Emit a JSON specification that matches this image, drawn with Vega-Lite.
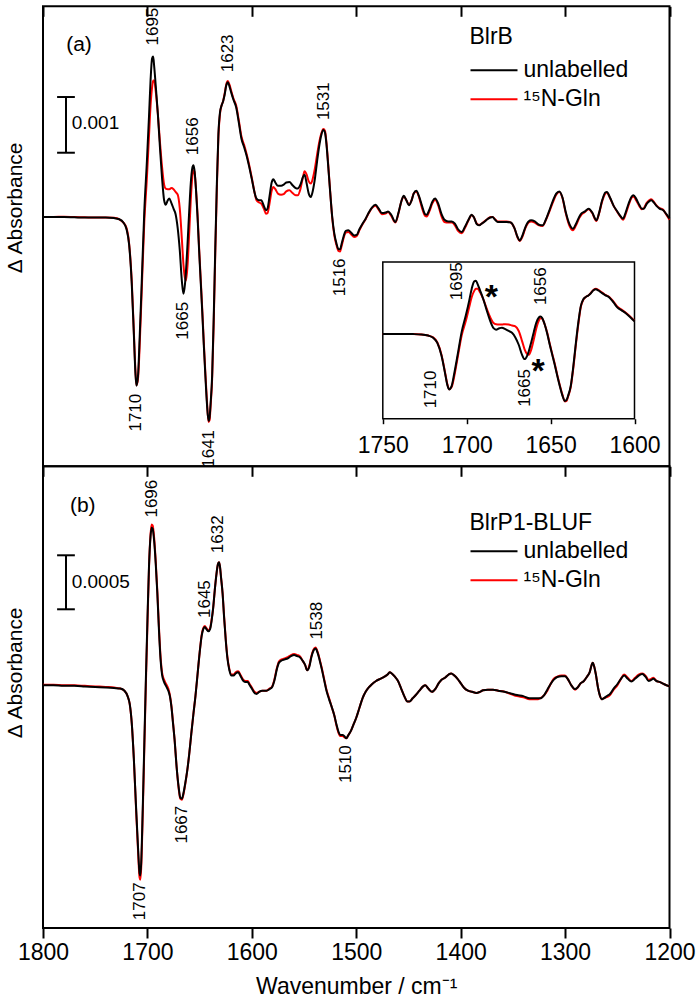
{
"$schema": "https://vega.github.io/schema/vega-lite/v6.json",
"padding": {"left": 3, "top": 4.3, "right": 5, "bottom": 0},
"config": {"font": "Liberation Sans", "view": {"stroke": "black", "strokeWidth": 2}, "axis": {"labelColor": "black", "titleColor": "black", "tickColor": "black", "grid": false, "labelFont": "Liberation Sans", "titleFont": "Liberation Sans"}, "legend": {"labelFont": "Liberation Sans", "titleFont": "Liberation Sans"}, "text": {"font": "Liberation Sans", "color": "black"}},
"datasets": {
"blrb": [
{"wn":1800,"unl":0,"n15":0},{"wn":1790,"unl":0,"n15":0},{"wn":1780,"unl":0,"n15":0.005},{"wn":1770,"unl":-0.005,"n15":0},{"wn":1760,"unl":-0.01,"n15":-0.005},{"wn":1750,"unl":-0.01,"n15":-0.01},{"wn":1740,"unl":-0.01,"n15":-0.01},{"wn":1732,"unl":-0.02,"n15":-0.015},{"wn":1727,"unl":-0.04,"n15":-0.04},{"wn":1723,"unl":-0.1,"n15":-0.1},{"wn":1720,"unl":-0.22,"n15":-0.2},{"wn":1717.5,"unl":-0.5,"n15":-0.48},{"wn":1715,"unl":-1.2,"n15":-1.15},{"wn":1713,"unl":-2.1,"n15":-2.05},{"wn":1711.5,"unl":-2.8,"n15":-2.75},{"wn":1710.5,"unl":-3.03,"n15":-3.02},{"wn":1709,"unl":-2.85,"n15":-2.9},{"wn":1707.5,"unl":-2.2,"n15":-2.35},{"wn":1705.5,"unl":-1.2,"n15":-1.35},{"wn":1703,"unl":0.1,"n15":-0.1},{"wn":1700.5,"unl":1.0,"n15":0.7},{"wn":1698.5,"unl":1.8,"n15":1.45},{"wn":1697,"unl":2.45,"n15":2.0},{"wn":1695.5,"unl":2.85,"n15":2.33},{"wn":1694.5,"unl":2.88,"n15":2.45},{"wn":1693.5,"unl":2.7,"n15":2.45},{"wn":1692,"unl":2.35,"n15":2.25},{"wn":1690,"unl":1.85,"n15":1.85},{"wn":1688,"unl":1.25,"n15":1.35},{"wn":1686,"unl":0.7,"n15":0.9},{"wn":1684,"unl":0.3,"n15":0.58},{"wn":1682.5,"unl":0.22,"n15":0.51},{"wn":1680.5,"unl":0.3,"n15":0.5},{"wn":1679,"unl":0.33,"n15":0.5},{"wn":1677,"unl":0.25,"n15":0.52},{"wn":1675,"unl":0.15,"n15":0.5},{"wn":1673,"unl":0.05,"n15":0.45},{"wn":1671,"unl":-0.2,"n15":0.4},{"wn":1669,"unl":-0.6,"n15":0.15},{"wn":1667,"unl":-1.15,"n15":-0.4},{"wn":1665.5,"unl":-1.38,"n15":-0.85},{"wn":1664,"unl":-1.2,"n15":-1.1},{"wn":1663,"unl":-0.95,"n15":-1.14},{"wn":1661.5,"unl":-0.45,"n15":-0.85},{"wn":1660,"unl":0.1,"n15":-0.3},{"wn":1658.5,"unl":0.6,"n15":0.3},{"wn":1657,"unl":0.88,"n15":0.72},{"wn":1656,"unl":0.93,"n15":0.84},{"wn":1655,"unl":0.85,"n15":0.82},{"wn":1653.5,"unl":0.5,"n15":0.5},{"wn":1652,"unl":0.0,"n15":0.05},{"wn":1650.5,"unl":-0.6,"n15":-0.55},{"wn":1649,"unl":-1.15,"n15":-1.1},{"wn":1647.5,"unl":-1.7,"n15":-1.65},{"wn":1646,"unl":-2.3,"n15":-2.25},{"wn":1644.5,"unl":-2.85,"n15":-2.8},{"wn":1643,"unl":-3.35,"n15":-3.3},{"wn":1641.5,"unl":-3.66,"n15":-3.68},{"wn":1640.5,"unl":-3.6,"n15":-3.65},{"wn":1639.5,"unl":-3.35,"n15":-3.4},{"wn":1638,"unl":-2.84,"n15":-2.9},{"wn":1636.5,"unl":-1.8,"n15":-1.9},{"wn":1635,"unl":-0.55,"n15":-0.65},{"wn":1633.5,"unl":0.6,"n15":0.5},{"wn":1632,"unl":1.5,"n15":1.45},{"wn":1630.5,"unl":1.88,"n15":1.85},{"wn":1629,"unl":2.0,"n15":2.0},{"wn":1627.5,"unl":2.08,"n15":2.08},{"wn":1626,"unl":2.2,"n15":2.22},{"wn":1624.5,"unl":2.36,"n15":2.38},{"wn":1623,"unl":2.42,"n15":2.44},{"wn":1621.5,"unl":2.35,"n15":2.38},{"wn":1619.5,"unl":2.22,"n15":2.25},{"wn":1617.5,"unl":2.1,"n15":2.12},{"wn":1615,"unl":1.97,"n15":2.0},{"wn":1612.5,"unl":1.7,"n15":1.74},{"wn":1610,"unl":1.41,"n15":1.45},{"wn":1607.5,"unl":1.26,"n15":1.3},{"wn":1605,"unl":1.1,"n15":1.13},{"wn":1602.5,"unl":0.9,"n15":0.93},{"wn":1600,"unl":0.68,"n15":0.7},{"wn":1597.5,"unl":0.45,"n15":0.45},{"wn":1595.5,"unl":0.33,"n15":0.3},{"wn":1593,"unl":0.3,"n15":0.26},{"wn":1591,"unl":0.3,"n15":0.24},{"wn":1588.5,"unl":0.2,"n15":0.15},{"wn":1586.5,"unl":0.12,"n15":0.06},{"wn":1585,"unl":0.15,"n15":0.07},{"wn":1583,"unl":0.38,"n15":0.25},{"wn":1581,"unl":0.62,"n15":0.47},{"wn":1579.5,"unl":0.68,"n15":0.54},{"wn":1577.5,"unl":0.62,"n15":0.5},{"wn":1575,"unl":0.56,"n15":0.42},{"wn":1572,"unl":0.56,"n15":0.4},{"wn":1569.5,"unl":0.58,"n15":0.41},{"wn":1567,"unl":0.62,"n15":0.46},{"wn":1564,"unl":0.63,"n15":0.48},{"wn":1561,"unl":0.57,"n15":0.43},{"wn":1558,"unl":0.52,"n15":0.39},{"wn":1556,"unl":0.51,"n15":0.39},{"wn":1553.5,"unl":0.58,"n15":0.5},{"wn":1551,"unl":0.72,"n15":0.72},{"wn":1549.5,"unl":0.76,"n15":0.82},{"wn":1547.5,"unl":0.6,"n15":0.76},{"wn":1545.5,"unl":0.42,"n15":0.64},{"wn":1543.5,"unl":0.36,"n15":0.6},{"wn":1541.5,"unl":0.48,"n15":0.7},{"wn":1539.5,"unl":0.7,"n15":0.88},{"wn":1537.5,"unl":1.0,"n15":1.12},{"wn":1535.5,"unl":1.27,"n15":1.34},{"wn":1533.5,"unl":1.47,"n15":1.5},{"wn":1531.5,"unl":1.56,"n15":1.58},{"wn":1530,"unl":1.52,"n15":1.55},{"wn":1528.5,"unl":1.3,"n15":1.33},{"wn":1527,"unl":0.95,"n15":0.98},{"wn":1525,"unl":0.45,"n15":0.47},{"wn":1523,"unl":0.0,"n15":-0.02},{"wn":1521,"unl":-0.3,"n15":-0.33},{"wn":1519,"unl":-0.47,"n15":-0.5},{"wn":1517,"unl":-0.58,"n15":-0.61},{"wn":1515.5,"unl":-0.58,"n15":-0.62},{"wn":1514,"unl":-0.48,"n15":-0.52},{"wn":1512,"unl":-0.34,"n15":-0.37},{"wn":1510,"unl":-0.25,"n15":-0.28},{"wn":1507.5,"unl":-0.24,"n15":-0.27},{"wn":1505,"unl":-0.28,"n15":-0.31},{"wn":1502,"unl":-0.33,"n15":-0.36},{"wn":1499.5,"unl":-0.32,"n15":-0.34},{"wn":1497,"unl":-0.22,"n15":-0.24},{"wn":1494,"unl":-0.12,"n15":-0.13},{"wn":1491,"unl":-0.03,"n15":-0.04},{"wn":1488,"unl":0.08,"n15":0.07},{"wn":1485,"unl":0.17,"n15":0.16},{"wn":1481.5,"unl":0.22,"n15":0.2},{"wn":1478.5,"unl":0.15,"n15":0.13},{"wn":1475.5,"unl":0.07,"n15":0.05},{"wn":1472,"unl":0.08,"n15":0.06},{"wn":1469.5,"unl":0.1,"n15":0.09},{"wn":1466.5,"unl":0.04,"n15":0.02},{"wn":1462.5,"unl":-0.09,"n15":-0.1},{"wn":1459.5,"unl":0.08,"n15":0.07},{"wn":1456.5,"unl":0.3,"n15":0.3},{"wn":1454.5,"unl":0.38,"n15":0.37},{"wn":1452,"unl":0.3,"n15":0.3},{"wn":1449.5,"unl":0.21,"n15":0.22},{"wn":1447,"unl":0.3,"n15":0.3},{"wn":1445,"unl":0.42,"n15":0.42},{"wn":1442.5,"unl":0.47,"n15":0.46},{"wn":1440,"unl":0.38,"n15":0.36},{"wn":1437,"unl":0.2,"n15":0.16},{"wn":1434,"unl":0.05,"n15":0.02},{"wn":1432.5,"unl":0.04,"n15":0.01},{"wn":1430,"unl":0.13,"n15":0.1},{"wn":1427,"unl":0.28,"n15":0.25},{"wn":1424.5,"unl":0.33,"n15":0.31},{"wn":1421.5,"unl":0.24,"n15":0.21},{"wn":1418.5,"unl":0.06,"n15":0.02},{"wn":1415.5,"unl":-0.05,"n15":-0.09},{"wn":1412,"unl":-0.08,"n15":-0.1},{"wn":1408.5,"unl":-0.08,"n15":-0.1},{"wn":1405.5,"unl":-0.12,"n15":-0.15},{"wn":1402.5,"unl":-0.22,"n15":-0.25},{"wn":1399,"unl":-0.27,"n15":-0.29},{"wn":1396,"unl":-0.18,"n15":-0.2},{"wn":1392.5,"unl":-0.05,"n15":-0.06},{"wn":1389.5,"unl":0.04,"n15":0.03},{"wn":1387.5,"unl":0.0,"n15":0.0},{"wn":1384.5,"unl":-0.13,"n15":-0.12},{"wn":1382,"unl":-0.15,"n15":-0.14},{"wn":1380,"unl":-0.12,"n15":-0.12},{"wn":1377.5,"unl":-0.09,"n15":-0.08},{"wn":1374.5,"unl":-0.04,"n15":-0.04},{"wn":1371.5,"unl":-0.01,"n15":0.0},{"wn":1369.5,"unl":0,"n15":0.0},{"wn":1367,"unl":-0.05,"n15":-0.04},{"wn":1364.5,"unl":-0.09,"n15":-0.08},{"wn":1360,"unl":-0.09,"n15":-0.08},{"wn":1356,"unl":-0.09,"n15":-0.08},{"wn":1352,"unl":-0.1,"n15":-0.1},{"wn":1348.5,"unl":-0.2,"n15":-0.2},{"wn":1345.5,"unl":-0.36,"n15":-0.37},{"wn":1343.5,"unl":-0.42,"n15":-0.43},{"wn":1341,"unl":-0.34,"n15":-0.36},{"wn":1338,"unl":-0.18,"n15":-0.2},{"wn":1335,"unl":-0.08,"n15":-0.1},{"wn":1332.5,"unl":-0.06,"n15":-0.08},{"wn":1329,"unl":-0.08,"n15":-0.1},{"wn":1325,"unl":-0.14,"n15":-0.15},{"wn":1321.5,"unl":-0.15,"n15":-0.16},{"wn":1318.5,"unl":-0.05,"n15":-0.06},{"wn":1315,"unl":0.12,"n15":0.1},{"wn":1311.5,"unl":0.3,"n15":0.27},{"wn":1308.5,"unl":0.42,"n15":0.4},{"wn":1305.5,"unl":0.46,"n15":0.45},{"wn":1302.5,"unl":0.35,"n15":0.34},{"wn":1299.5,"unl":0.1,"n15":0.08},{"wn":1296,"unl":-0.12,"n15":-0.15},{"wn":1292.5,"unl":-0.21,"n15":-0.24},{"wn":1289.5,"unl":-0.12,"n15":-0.15},{"wn":1286.5,"unl":0.0,"n15":-0.02},{"wn":1284.5,"unl":0.06,"n15":0.04},{"wn":1281,"unl":0.1,"n15":0.09},{"wn":1277.5,"unl":0.15,"n15":0.14},{"wn":1274,"unl":0.08,"n15":0.07},{"wn":1271,"unl":-0.04,"n15":-0.05},{"wn":1270,"unl":-0.06,"n15":-0.07},{"wn":1267.5,"unl":0.07,"n15":0.06},{"wn":1264.5,"unl":0.3,"n15":0.28},{"wn":1261.5,"unl":0.44,"n15":0.42},{"wn":1260,"unl":0.45,"n15":0.44},{"wn":1257,"unl":0.35,"n15":0.34},{"wn":1253.5,"unl":0.2,"n15":0.2},{"wn":1250,"unl":0.1,"n15":0.09},{"wn":1247.5,"unl":0.03,"n15":0.02},{"wn":1244.5,"unl":-0.03,"n15":-0.05},{"wn":1242,"unl":0.08,"n15":0.05},{"wn":1239,"unl":0.25,"n15":0.22},{"wn":1236.5,"unl":0.36,"n15":0.34},{"wn":1234.5,"unl":0.39,"n15":0.37},{"wn":1232,"unl":0.33,"n15":0.3},{"wn":1229,"unl":0.22,"n15":0.2},{"wn":1226.5,"unl":0.15,"n15":0.14},{"wn":1224.5,"unl":0.15,"n15":0.16},{"wn":1222,"unl":0.23,"n15":0.25},{"wn":1219.5,"unl":0.28,"n15":0.3},{"wn":1217.5,"unl":0.3,"n15":0.32},{"wn":1215,"unl":0.26,"n15":0.27},{"wn":1212.5,"unl":0.2,"n15":0.21},{"wn":1209.5,"unl":0.15,"n15":0.16},{"wn":1206,"unl":0.12,"n15":0.13},{"wn":1203,"unl":0.05,"n15":0.04},{"wn":1200,"unl":-0.03,"n15":-0.05}
],
"blrp1": [
{"wn":1800,"unl":0,"n15":0.005},{"wn":1790,"unl":0,"n15":0.005},{"wn":1780,"unl":-0.005,"n15":0},{"wn":1770,"unl":-0.005,"n15":0},{"wn":1760,"unl":-0.01,"n15":-0.005},{"wn":1750,"unl":-0.015,"n15":-0.01},{"wn":1740,"unl":-0.02,"n15":-0.015},{"wn":1732,"unl":-0.025,"n15":-0.02},{"wn":1726,"unl":-0.03,"n15":-0.03},{"wn":1722,"unl":-0.05,"n15":-0.05},{"wn":1719,"unl":-0.1,"n15":-0.1},{"wn":1717,"unl":-0.17,"n15":-0.17},{"wn":1715,"unl":-0.35,"n15":-0.35},{"wn":1713,"unl":-0.68,"n15":-0.68},{"wn":1711,"unl":-1.1,"n15":-1.12},{"wn":1709,"unl":-1.5,"n15":-1.53},{"wn":1707.5,"unl":-1.74,"n15":-1.78},{"wn":1706.8,"unl":-1.76,"n15":-1.8},{"wn":1706,"unl":-1.65,"n15":-1.7},{"wn":1704.5,"unl":-1.15,"n15":-1.2},{"wn":1703,"unl":-0.55,"n15":-0.6},{"wn":1701.5,"unl":0.05,"n15":0.0},{"wn":1700,"unl":0.6,"n15":0.55},{"wn":1698.5,"unl":1.1,"n15":1.08},{"wn":1697,"unl":1.38,"n15":1.4},{"wn":1696,"unl":1.46,"n15":1.49},{"wn":1695,"unl":1.45,"n15":1.48},{"wn":1693.5,"unl":1.33,"n15":1.36},{"wn":1692,"unl":1.12,"n15":1.14},{"wn":1690.5,"unl":0.85,"n15":0.87},{"wn":1689,"unl":0.52,"n15":0.55},{"wn":1687.5,"unl":0.25,"n15":0.28},{"wn":1686,"unl":0.1,"n15":0.12},{"wn":1684,"unl":0.03,"n15":0.05},{"wn":1682,"unl":-0.01,"n15":0.01},{"wn":1680,"unl":-0.05,"n15":-0.03},{"wn":1678.5,"unl":-0.1,"n15":-0.09},{"wn":1677,"unl":-0.2,"n15":-0.19},{"wn":1675.5,"unl":-0.35,"n15":-0.34},{"wn":1674,"unl":-0.5,"n15":-0.5},{"wn":1672,"unl":-0.76,"n15":-0.76},{"wn":1670,"unl":-0.95,"n15":-0.96},{"wn":1668.5,"unl":-1.04,"n15":-1.05},{"wn":1667,"unl":-1.05,"n15":-1.06},{"wn":1665.5,"unl":-1.0,"n15":-1.01},{"wn":1664,"unl":-0.92,"n15":-0.93},{"wn":1662,"unl":-0.8,"n15":-0.8},{"wn":1660,"unl":-0.64,"n15":-0.64},{"wn":1658,"unl":-0.45,"n15":-0.45},{"wn":1656,"unl":-0.27,"n15":-0.27},{"wn":1654,"unl":-0.1,"n15":-0.1},{"wn":1652,"unl":0.1,"n15":0.1},{"wn":1650,"unl":0.3,"n15":0.3},{"wn":1648,"unl":0.46,"n15":0.47},{"wn":1646.5,"unl":0.52,"n15":0.53},{"wn":1645,"unl":0.54,"n15":0.55},{"wn":1643.5,"unl":0.52,"n15":0.53},{"wn":1641.5,"unl":0.5,"n15":0.51},{"wn":1640,"unl":0.52,"n15":0.53},{"wn":1638.5,"unl":0.6,"n15":0.61},{"wn":1637,"unl":0.72,"n15":0.72},{"wn":1635.5,"unl":0.88,"n15":0.88},{"wn":1634,"unl":1.02,"n15":1.02},{"wn":1632.5,"unl":1.12,"n15":1.12},{"wn":1631.5,"unl":1.14,"n15":1.14},{"wn":1630.5,"unl":1.1,"n15":1.1},{"wn":1629.5,"unl":1.0,"n15":1.0},{"wn":1628,"unl":0.85,"n15":0.85},{"wn":1626.5,"unl":0.62,"n15":0.63},{"wn":1625,"unl":0.42,"n15":0.43},{"wn":1623.5,"unl":0.26,"n15":0.27},{"wn":1621.5,"unl":0.14,"n15":0.15},{"wn":1619.5,"unl":0.09,"n15":0.1},{"wn":1617.5,"unl":0.09,"n15":0.1},{"wn":1615.5,"unl":0.11,"n15":0.12},{"wn":1613,"unl":0.12,"n15":0.13},{"wn":1610.5,"unl":0.08,"n15":0.09},{"wn":1608,"unl":0.04,"n15":0.05},{"wn":1606,"unl":0.03,"n15":0.04},{"wn":1604,"unl":0.03,"n15":0.04},{"wn":1602,"unl":0.0,"n15":0.01},{"wn":1600,"unl":-0.03,"n15":-0.02},{"wn":1597.5,"unl":-0.07,"n15":-0.06},{"wn":1595.5,"unl":-0.08,"n15":-0.07},{"wn":1593,"unl":-0.06,"n15":-0.06},{"wn":1590,"unl":-0.05,"n15":-0.05},{"wn":1586,"unl":-0.05,"n15":-0.05},{"wn":1583,"unl":-0.035,"n15":-0.03},{"wn":1580.5,"unl":-0.015,"n15":-0.01},{"wn":1578.5,"unl":0.04,"n15":0.05},{"wn":1576,"unl":0.15,"n15":0.16},{"wn":1574,"unl":0.21,"n15":0.22},{"wn":1571.5,"unl":0.23,"n15":0.24},{"wn":1568.5,"unl":0.24,"n15":0.25},{"wn":1565.5,"unl":0.25,"n15":0.26},{"wn":1562.5,"unl":0.27,"n15":0.28},{"wn":1559.5,"unl":0.28,"n15":0.29},{"wn":1556.5,"unl":0.27,"n15":0.28},{"wn":1554,"unl":0.26,"n15":0.27},{"wn":1551.5,"unl":0.23,"n15":0.23},{"wn":1549,"unl":0.19,"n15":0.19},{"wn":1547,"unl":0.14,"n15":0.14},{"wn":1545,"unl":0.17,"n15":0.18},{"wn":1543,"unl":0.26,"n15":0.27},{"wn":1541,"unl":0.32,"n15":0.33},{"wn":1539,"unl":0.34,"n15":0.35},{"wn":1537,"unl":0.3,"n15":0.31},{"wn":1535,"unl":0.23,"n15":0.24},{"wn":1533,"unl":0.15,"n15":0.16},{"wn":1531,"unl":0.06,"n15":0.07},{"wn":1528.5,"unl":-0.05,"n15":-0.04},{"wn":1526,"unl":-0.13,"n15":-0.12},{"wn":1523.5,"unl":-0.2,"n15":-0.2},{"wn":1521,"unl":-0.28,"n15":-0.28},{"wn":1519,"unl":-0.36,"n15":-0.37},{"wn":1517,"unl":-0.43,"n15":-0.44},{"wn":1515,"unl":-0.46,"n15":-0.47},{"wn":1513,"unl":-0.46,"n15":-0.47},{"wn":1511.5,"unl":-0.47,"n15":-0.48},{"wn":1509.5,"unl":-0.49,"n15":-0.49},{"wn":1507.5,"unl":-0.46,"n15":-0.46},{"wn":1505,"unl":-0.42,"n15":-0.42},{"wn":1502.5,"unl":-0.36,"n15":-0.36},{"wn":1500,"unl":-0.3,"n15":-0.3},{"wn":1497,"unl":-0.21,"n15":-0.21},{"wn":1494,"unl":-0.12,"n15":-0.12},{"wn":1491,"unl":-0.06,"n15":-0.06},{"wn":1488,"unl":-0.02,"n15":-0.02},{"wn":1485,"unl":0.01,"n15":0.01},{"wn":1481,"unl":0.04,"n15":0.04},{"wn":1477,"unl":0.06,"n15":0.06},{"wn":1473,"unl":0.08,"n15":0.08},{"wn":1470,"unl":0.1,"n15":0.1},{"wn":1468,"unl":0.12,"n15":0.12},{"wn":1466,"unl":0.11,"n15":0.11},{"wn":1463,"unl":0.08,"n15":0.08},{"wn":1460,"unl":0.04,"n15":0.04},{"wn":1457,"unl":-0.03,"n15":-0.03},{"wn":1454,"unl":-0.1,"n15":-0.1},{"wn":1451,"unl":-0.15,"n15":-0.15},{"wn":1449,"unl":-0.15,"n15":-0.15},{"wn":1446,"unl":-0.12,"n15":-0.12},{"wn":1443,"unl":-0.09,"n15":-0.09},{"wn":1439.5,"unl":-0.05,"n15":-0.05},{"wn":1436,"unl":-0.01,"n15":-0.01},{"wn":1434,"unl":0.0,"n15":0.0},{"wn":1431,"unl":-0.03,"n15":-0.03},{"wn":1427.5,"unl":-0.06,"n15":-0.06},{"wn":1424,"unl":-0.03,"n15":-0.03},{"wn":1421,"unl":0.02,"n15":0.02},{"wn":1418.5,"unl":0.05,"n15":0.05},{"wn":1415,"unl":0.07,"n15":0.07},{"wn":1411.5,"unl":0.1,"n15":0.1},{"wn":1409,"unl":0.11,"n15":0.11},{"wn":1406,"unl":0.09,"n15":0.09},{"wn":1403,"unl":0.06,"n15":0.06},{"wn":1400,"unl":0.02,"n15":0.02},{"wn":1397,"unl":-0.02,"n15":-0.02},{"wn":1393,"unl":-0.05,"n15":-0.05},{"wn":1389,"unl":-0.06,"n15":-0.06},{"wn":1385,"unl":-0.07,"n15":-0.07},{"wn":1381.5,"unl":-0.06,"n15":-0.06},{"wn":1378.5,"unl":-0.045,"n15":-0.045},{"wn":1374,"unl":-0.04,"n15":-0.04},{"wn":1369,"unl":-0.04,"n15":-0.04},{"wn":1364,"unl":-0.05,"n15":-0.05},{"wn":1358,"unl":-0.06,"n15":-0.06},{"wn":1352,"unl":-0.075,"n15":-0.08},{"wn":1346,"unl":-0.09,"n15":-0.1},{"wn":1340,"unl":-0.1,"n15":-0.11},{"wn":1334,"unl":-0.12,"n15":-0.13},{"wn":1328,"unl":-0.12,"n15":-0.13},{"wn":1324,"unl":-0.12,"n15":-0.12},{"wn":1320,"unl":-0.09,"n15":-0.09},{"wn":1317,"unl":-0.04,"n15":-0.05},{"wn":1314,"unl":0.01,"n15":0.01},{"wn":1311,"unl":0.05,"n15":0.06},{"wn":1307.5,"unl":0.077,"n15":0.08},{"wn":1303.5,"unl":0.085,"n15":0.09},{"wn":1300,"unl":0.085,"n15":0.09},{"wn":1297.5,"unl":0.06,"n15":0.06},{"wn":1294,"unl":0.0,"n15":0.0},{"wn":1290.5,"unl":-0.035,"n15":-0.04},{"wn":1288,"unl":-0.02,"n15":-0.02},{"wn":1285,"unl":0.02,"n15":0.02},{"wn":1282,"unl":0.04,"n15":0.04},{"wn":1279,"unl":0.08,"n15":0.08},{"wn":1276.5,"unl":0.12,"n15":0.12},{"wn":1274.5,"unl":0.19,"n15":0.19},{"wn":1273.5,"unl":0.21,"n15":0.21},{"wn":1272,"unl":0.17,"n15":0.17},{"wn":1270.5,"unl":0.1,"n15":0.1},{"wn":1268.5,"unl":-0.02,"n15":-0.02},{"wn":1266.5,"unl":-0.1,"n15":-0.1},{"wn":1265,"unl":-0.13,"n15":-0.13},{"wn":1263,"unl":-0.12,"n15":-0.12},{"wn":1260,"unl":-0.1,"n15":-0.11},{"wn":1257,"unl":-0.08,"n15":-0.09},{"wn":1253.5,"unl":-0.03,"n15":-0.04},{"wn":1250,"unl":0.01,"n15":0.0},{"wn":1246.5,"unl":0.06,"n15":0.06},{"wn":1243.5,"unl":0.09,"n15":0.1},{"wn":1240,"unl":0.06,"n15":0.07},{"wn":1236.5,"unl":0.035,"n15":0.04},{"wn":1233,"unl":0.06,"n15":0.07},{"wn":1229.5,"unl":0.09,"n15":0.1},{"wn":1226,"unl":0.105,"n15":0.11},{"wn":1223,"unl":0.08,"n15":0.09},{"wn":1220,"unl":0.04,"n15":0.05},{"wn":1217.5,"unl":0.05,"n15":0.06},{"wn":1215.5,"unl":0.06,"n15":0.07},{"wn":1212.5,"unl":0.04,"n15":0.04},{"wn":1209,"unl":0.03,"n15":0.03},{"wn":1205,"unl":0.01,"n15":0.01},{"wn":1200,"unl":-0.01,"n15":-0.01}
],
"pk_a": [
{"wn":1695,"dA":2.9,"label":"1695","kind":"max"},{"wn":1656,"dA":0.93,"label":"1656","kind":"max"},{"wn":1623,"dA":2.42,"label":"1623","kind":"max"},{"wn":1531,"dA":1.56,"label":"1531","kind":"max"},
{"wn":1710.5,"dA":-3.03,"label":"1710","kind":"min"},{"wn":1665.5,"dA":-1.38,"label":"1665","kind":"min"},{"wn":1641.5,"dA":-3.68,"label":"1641","kind":"min"},{"wn":1516,"dA":-0.6,"label":"1516","kind":"min"}
],
"pk_b": [
{"wn":1696,"dA":1.47,"label":"1696","kind":"max"},{"wn":1645,"dA":0.54,"label":"1645","kind":"max"},{"wn":1632,"dA":1.14,"label":"1632","kind":"max"},{"wn":1538,"dA":0.34,"label":"1538","kind":"max"},
{"wn":1707,"dA":-1.76,"label":"1707","kind":"min"},{"wn":1667,"dA":-1.05,"label":"1667","kind":"min"},{"wn":1510,"dA":-0.49,"label":"1510","kind":"min"}
],
"pk_ins": [
{"wn":1710.5,"dA":-3.03,"label":"1710","kind":"min"},{"wn":1695,"dA":2.85,"label":"1695","kind":"max"},{"wn":1665.5,"dA":-1.43,"label":"1665","kind":"min"},{"wn":1656,"dA":0.85,"label":"1656","kind":"max"}
],
"stars": [{"wn":1685.3,"dA":2.41},{"wn":1657.5,"dA":-1.58}]
},
"spacing": 0,
"bounds": "flush",
"resolve": {"scale": {"color": "independent"}, "legend": {"color": "independent"}},
"vconcat": [
{
"width": 626.5, "height": 460,
"resolve": {"scale": {"x": "independent", "y": "independent"}, "axis": {"x": "independent", "y": "independent"}},
"layer": [
{"layer": [
{"data": {"name": "blrb"}, "mark": {"type": "line", "strokeWidth": 2, "interpolate": "monotone"},
 "encoding": {
  "x": {"field": "wn", "type": "quantitative", "scale": {"domain": [1200, 1800], "reverse": true, "nice": false, "zero": false}, "axis": {"orient": "top", "values": [1200,1300,1400,1500,1600,1700,1800], "tickSize": -10, "tickWidth": 2, "labels": false, "domain": false, "grid": false, "title": null}},
  "y": {"field": "n15", "type": "quantitative", "scale": {"domain": [-4.476, 3.783], "nice": false, "zero": false}, "axis": {"title": "Δ Absorbance", "labels": false, "ticks": false, "domain": true, "domainOpacity": 0, "grid": false, "titleFontSize": 21, "titleFontWeight": "normal", "titlePadding": 18, "titleY": 201}},
  "color": {"datum": "¹⁵N-Gln", "type": "nominal", "scale": {"domain": ["unlabelled", "¹⁵N-Gln"], "range": ["#000000", "#ff0000"]}, "legend": {"title": "BlrB", "orient": "none", "legendX": 426.5, "legendY": 20, "titleFontSize": 23, "titleFontWeight": "normal", "titleColor": "black", "titlePadding": 10, "labelFontSize": 23, "labelColor": "black", "symbolType": "stroke", "symbolSize": 2209, "symbolStrokeWidth": 2, "clipHeight": 22, "rowPadding": 6, "labelOffset": 5, "padding": 0, "labelLimit": 300}}}},
{"data": {"name": "blrb"}, "mark": {"type": "line", "strokeWidth": 2, "interpolate": "monotone"},
 "encoding": {
  "x": {"field": "wn", "type": "quantitative", "axis": {"orient": "top", "values": [1200,1300,1400,1500,1600,1700,1800], "tickSize": -10, "tickWidth": 2, "labels": false, "domain": false, "grid": false, "title": null}},
  "y": {"field": "unl", "type": "quantitative", "axis": {"title": "Δ Absorbance", "labels": false, "ticks": false, "domain": true, "domainOpacity": 0, "grid": false, "titleFontSize": 21, "titleFontWeight": "normal", "titlePadding": 18, "titleY": 201}},
  "color": {"datum": "unlabelled", "type": "nominal"}}},
{"data": {"name": "pk_a"}, "transform": [{"filter": "datum.kind === 'max'"}], "mark": {"type": "text", "angle": 270, "align": "left", "baseline": "middle", "dx": 10, "fontSize": 17},
 "encoding": {"x": {"field": "wn", "type": "quantitative", "axis": {"orient": "top", "values": [1200,1300,1400,1500,1600,1700,1800], "tickSize": -10, "tickWidth": 2, "labels": false, "domain": false, "grid": false, "title": null}}, "y": {"field": "dA", "type": "quantitative", "axis": {"title": "Δ Absorbance", "labels": false, "ticks": false, "domain": true, "domainOpacity": 0, "grid": false, "titleFontSize": 21, "titleFontWeight": "normal", "titlePadding": 18, "titleY": 201}}, "text": {"field": "label"}}},
{"data": {"name": "pk_a"}, "transform": [{"filter": "datum.kind === 'min'"}], "mark": {"type": "text", "angle": 270, "align": "right", "baseline": "middle", "dx": -8, "fontSize": 17},
 "encoding": {"x": {"field": "wn", "type": "quantitative", "axis": {"orient": "top", "values": [1200,1300,1400,1500,1600,1700,1800], "tickSize": -10, "tickWidth": 2, "labels": false, "domain": false, "grid": false, "title": null}}, "y": {"field": "dA", "type": "quantitative", "axis": {"title": "Δ Absorbance", "labels": false, "ticks": false, "domain": true, "domainOpacity": 0, "grid": false, "titleFontSize": 21, "titleFontWeight": "normal", "titlePadding": 18, "titleY": 201}}, "text": {"field": "label"}}},
{"data": {"values": [{}]}, "mark": {"type": "text", "fontSize": 21, "align": "center", "baseline": "middle"},
 "encoding": {"x": {"datum": 1765.5, "type": "quantitative", "axis": {"orient": "top", "values": [1200,1300,1400,1500,1600,1700,1800], "tickSize": -10, "tickWidth": 2, "labels": false, "domain": false, "grid": false, "title": null}}, "y": {"datum": 3.09, "type": "quantitative", "axis": {"title": "Δ Absorbance", "labels": false, "ticks": false, "domain": true, "domainOpacity": 0, "grid": false, "titleFontSize": 21, "titleFontWeight": "normal", "titlePadding": 18, "titleY": 201}}, "text": {"value": "(a)"}}},
{"data": {"values": [{}]}, "mark": {"type": "rule", "strokeWidth": 2, "color": "black"},
 "encoding": {"x": {"datum": 1778, "type": "quantitative", "axis": {"orient": "top", "values": [1200,1300,1400,1500,1600,1700,1800], "tickSize": -10, "tickWidth": 2, "labels": false, "domain": false, "grid": false, "title": null}}, "y": {"datum": 1.154, "type": "quantitative", "axis": {"title": "Δ Absorbance", "labels": false, "ticks": false, "domain": true, "domainOpacity": 0, "grid": false, "titleFontSize": 21, "titleFontWeight": "normal", "titlePadding": 18, "titleY": 201}}, "y2": {"datum": 2.154}}},
{"data": {"values": [{}]}, "mark": {"type": "rule", "strokeWidth": 2, "color": "black"},
 "encoding": {"x": {"datum": 1786.5, "type": "quantitative", "axis": {"orient": "top", "values": [1200,1300,1400,1500,1600,1700,1800], "tickSize": -10, "tickWidth": 2, "labels": false, "domain": false, "grid": false, "title": null}}, "x2": {"datum": 1769.5}, "y": {"datum": 1.154, "type": "quantitative", "axis": {"title": "Δ Absorbance", "labels": false, "ticks": false, "domain": true, "domainOpacity": 0, "grid": false, "titleFontSize": 21, "titleFontWeight": "normal", "titlePadding": 18, "titleY": 201}}}},
{"data": {"values": [{}]}, "mark": {"type": "rule", "strokeWidth": 2, "color": "black"},
 "encoding": {"x": {"datum": 1786.5, "type": "quantitative", "axis": {"orient": "top", "values": [1200,1300,1400,1500,1600,1700,1800], "tickSize": -10, "tickWidth": 2, "labels": false, "domain": false, "grid": false, "title": null}}, "x2": {"datum": 1769.5}, "y": {"datum": 2.154, "type": "quantitative", "axis": {"title": "Δ Absorbance", "labels": false, "ticks": false, "domain": true, "domainOpacity": 0, "grid": false, "titleFontSize": 21, "titleFontWeight": "normal", "titlePadding": 18, "titleY": 201}}}},
{"data": {"values": [{}]}, "mark": {"type": "text", "fontSize": 19, "align": "left", "baseline": "middle"},
 "encoding": {"x": {"datum": 1772.5, "type": "quantitative", "axis": {"orient": "top", "values": [1200,1300,1400,1500,1600,1700,1800], "tickSize": -10, "tickWidth": 2, "labels": false, "domain": false, "grid": false, "title": null}}, "y": {"datum": 1.69, "type": "quantitative", "axis": {"title": "Δ Absorbance", "labels": false, "ticks": false, "domain": true, "domainOpacity": 0, "grid": false, "titleFontSize": 21, "titleFontWeight": "normal", "titlePadding": 18, "titleY": 201}}, "text": {"value": "0.001"}}}
]},
{"layer": [
{"data": {"values": [{}]}, "mark": {"type": "rect", "fill": "white", "stroke": "black", "strokeWidth": 1.5},
 "encoding": {
  "x": {"datum": 1750, "type": "quantitative", "scale": {"domain": [1600, 1750], "range": [591.5, 339.8], "nice": false, "zero": false}, "axis": {"orient": "bottom", "offset": -47.6, "values": [1600, 1650, 1700, 1750], "tickSize": 5, "tickWidth": 1.5, "labelFontSize": 23, "labelPadding": 11, "format": "d", "labelFlush": false, "labelOverlap": false, "domain": false, "grid": false, "title": null}},
  "x2": {"datum": 1600},
  "y": {"datum": -4.62, "type": "quantitative", "scale": {"domain": [-4.62, 3.9], "range": [412.4, 255.7], "nice": false, "zero": false}, "axis": null},
  "y2": {"datum": 3.9}}},
{"data": {"name": "blrb"}, "transform": [{"filter": "datum.wn >= 1600 && datum.wn <= 1750"}], "mark": {"type": "line", "color": "#ff0000", "strokeWidth": 2, "interpolate": "monotone"},
 "encoding": {"x": {"field": "wn", "type": "quantitative", "axis": {"orient": "bottom", "offset": -47.6, "values": [1600, 1650, 1700, 1750], "tickSize": 5, "tickWidth": 1.5, "labelFontSize": 23, "labelPadding": 11, "format": "d", "labelFlush": false, "labelOverlap": false, "domain": false, "grid": false, "title": null}}, "y": {"field": "n15", "type": "quantitative", "axis": null}}},
{"data": {"name": "blrb"}, "transform": [{"filter": "datum.wn >= 1600 && datum.wn <= 1750"}], "mark": {"type": "line", "color": "#000000", "strokeWidth": 2, "interpolate": "monotone"},
 "encoding": {"x": {"field": "wn", "type": "quantitative", "axis": {"orient": "bottom", "offset": -47.6, "values": [1600, 1650, 1700, 1750], "tickSize": 5, "tickWidth": 1.5, "labelFontSize": 23, "labelPadding": 11, "format": "d", "labelFlush": false, "labelOverlap": false, "domain": false, "grid": false, "title": null}}, "y": {"field": "unl", "type": "quantitative", "axis": null}}},
{"data": {"name": "pk_ins"}, "transform": [{"filter": "datum.wn > 1690"}], "mark": {"type": "text", "angle": 270, "align": "center", "baseline": "middle", "dy": -18, "fontSize": 17},
 "encoding": {"x": {"field": "wn", "type": "quantitative", "axis": {"orient": "bottom", "offset": -47.6, "values": [1600, 1650, 1700, 1750], "tickSize": 5, "tickWidth": 1.5, "labelFontSize": 23, "labelPadding": 11, "format": "d", "labelFlush": false, "labelOverlap": false, "domain": false, "grid": false, "title": null}}, "y": {"field": "dA", "type": "quantitative", "axis": null}, "text": {"field": "label"}}},
{"data": {"name": "pk_ins"}, "transform": [{"filter": "datum.wn < 1690 && datum.kind === 'min'"}], "mark": {"type": "text", "angle": 270, "align": "right", "baseline": "middle", "dx": -9, "fontSize": 17},
 "encoding": {"x": {"field": "wn", "type": "quantitative", "axis": {"orient": "bottom", "offset": -47.6, "values": [1600, 1650, 1700, 1750], "tickSize": 5, "tickWidth": 1.5, "labelFontSize": 23, "labelPadding": 11, "format": "d", "labelFlush": false, "labelOverlap": false, "domain": false, "grid": false, "title": null}}, "y": {"field": "dA", "type": "quantitative", "axis": null}, "text": {"field": "label"}}},
{"data": {"name": "pk_ins"}, "transform": [{"filter": "datum.wn < 1690 && datum.kind === 'max'"}], "mark": {"type": "text", "angle": 270, "align": "left", "baseline": "middle", "dx": 13, "fontSize": 17},
 "encoding": {"x": {"field": "wn", "type": "quantitative", "axis": {"orient": "bottom", "offset": -47.6, "values": [1600, 1650, 1700, 1750], "tickSize": 5, "tickWidth": 1.5, "labelFontSize": 23, "labelPadding": 11, "format": "d", "labelFlush": false, "labelOverlap": false, "domain": false, "grid": false, "title": null}}, "y": {"field": "dA", "type": "quantitative", "axis": null}, "text": {"field": "label"}}},
{"data": {"name": "stars"}, "mark": {"type": "text", "fontSize": 34, "fontWeight": "bold", "align": "center", "baseline": "middle", "dy": 9},
 "encoding": {"x": {"field": "wn", "type": "quantitative", "axis": {"orient": "bottom", "offset": -47.6, "values": [1600, 1650, 1700, 1750], "tickSize": 5, "tickWidth": 1.5, "labelFontSize": 23, "labelPadding": 11, "format": "d", "labelFlush": false, "labelOverlap": false, "domain": false, "grid": false, "title": null}}, "y": {"field": "dA", "type": "quantitative", "axis": null}, "text": {"value": "*"}}}
]}
]
},
{
"width": 626.5, "height": 461.7,
"resolve": {"axis": {"x": "independent"}},
"layer": [
{"data": {"name": "blrp1"}, "mark": {"type": "line", "strokeWidth": 2, "interpolate": "monotone"},
 "encoding": {
  "x": {"field": "wn", "type": "quantitative", "scale": {"domain": [1200, 1800], "reverse": true, "nice": false, "zero": false}, "axis": {"orient": "top", "values": [1200,1300,1400,1500,1600,1700,1800], "tickSize": -10, "tickWidth": 2, "labels": false, "domain": false, "grid": false, "title": null}},
  "y": {"field": "n15", "type": "quantitative", "scale": {"domain": [-2.247, 2.028], "nice": false, "zero": false}, "axis": {"title": "Δ Absorbance", "labels": false, "ticks": false, "domain": true, "domainOpacity": 0, "grid": false, "titleFontSize": 21, "titleFontWeight": "normal", "titlePadding": 18, "titleY": 206}},
  "color": {"datum": "¹⁵N-Gln", "type": "nominal", "scale": {"domain": ["unlabelled", "¹⁵N-Gln"], "range": ["#000000", "#ff0000"]}, "legend": {"title": "BlrP1-BLUF", "orient": "none", "legendX": 426.5, "legendY": 46, "titleFontSize": 23, "titleFontWeight": "normal", "titleColor": "black", "titlePadding": 5, "labelFontSize": 23, "labelColor": "black", "symbolType": "stroke", "symbolSize": 2209, "symbolStrokeWidth": 2, "clipHeight": 22, "rowPadding": 6, "labelOffset": 5, "padding": 0, "labelLimit": 300}}}},
{"layer": [
{"data": {"name": "blrp1"}, "mark": {"type": "line", "strokeWidth": 2, "interpolate": "monotone"},
 "encoding": {
  "x": {"field": "wn", "type": "quantitative", "axis": {"orient": "bottom", "values": [1200,1300,1400,1500,1600,1700,1800], "tickSize": 10, "tickWidth": 2, "labelFontSize": 23, "labelPadding": 4, "format": "d", "labelFlush": false, "labelOverlap": false, "domain": false, "grid": false, "title": "Wavenumber / cm⁻¹", "titleFontSize": 23, "titleFontWeight": "normal", "titlePadding": 11}},
  "y": {"field": "unl", "type": "quantitative", "axis": {"title": "Δ Absorbance", "labels": false, "ticks": false, "domain": true, "domainOpacity": 0, "grid": false, "titleFontSize": 21, "titleFontWeight": "normal", "titlePadding": 18, "titleY": 206}},
  "color": {"datum": "unlabelled", "type": "nominal"}}},
{"data": {"name": "pk_b"}, "transform": [{"filter": "datum.kind === 'max'"}], "mark": {"type": "text", "angle": 270, "align": "left", "baseline": "middle", "dx": 9, "fontSize": 17},
 "encoding": {"x": {"field": "wn", "type": "quantitative", "axis": {"orient": "bottom", "values": [1200,1300,1400,1500,1600,1700,1800], "tickSize": 10, "tickWidth": 2, "labelFontSize": 23, "labelPadding": 4, "format": "d", "labelFlush": false, "labelOverlap": false, "domain": false, "grid": false, "title": "Wavenumber / cm⁻¹", "titleFontSize": 23, "titleFontWeight": "normal", "titlePadding": 11}}, "y": {"field": "dA", "type": "quantitative", "axis": {"title": "Δ Absorbance", "labels": false, "ticks": false, "domain": true, "domainOpacity": 0, "grid": false, "titleFontSize": 21, "titleFontWeight": "normal", "titlePadding": 18, "titleY": 206}}, "text": {"field": "label"}}},
{"data": {"name": "pk_b"}, "transform": [{"filter": "datum.kind === 'min'"}], "mark": {"type": "text", "angle": 270, "align": "right", "baseline": "middle", "dx": -7, "fontSize": 17},
 "encoding": {"x": {"field": "wn", "type": "quantitative", "axis": {"orient": "bottom", "values": [1200,1300,1400,1500,1600,1700,1800], "tickSize": 10, "tickWidth": 2, "labelFontSize": 23, "labelPadding": 4, "format": "d", "labelFlush": false, "labelOverlap": false, "domain": false, "grid": false, "title": "Wavenumber / cm⁻¹", "titleFontSize": 23, "titleFontWeight": "normal", "titlePadding": 11}}, "y": {"field": "dA", "type": "quantitative", "axis": {"title": "Δ Absorbance", "labels": false, "ticks": false, "domain": true, "domainOpacity": 0, "grid": false, "titleFontSize": 21, "titleFontWeight": "normal", "titlePadding": 18, "titleY": 206}}, "text": {"field": "label"}}},
{"data": {"values": [{}]}, "mark": {"type": "text", "fontSize": 21, "align": "center", "baseline": "middle"},
 "encoding": {"x": {"datum": 1761.9, "type": "quantitative", "axis": {"orient": "bottom", "values": [1200,1300,1400,1500,1600,1700,1800], "tickSize": 10, "tickWidth": 2, "labelFontSize": 23, "labelPadding": 4, "format": "d", "labelFlush": false, "labelOverlap": false, "domain": false, "grid": false, "title": "Wavenumber / cm⁻¹", "titleFontSize": 23, "titleFontWeight": "normal", "titlePadding": 11}}, "y": {"datum": 1.66, "type": "quantitative", "axis": {"title": "Δ Absorbance", "labels": false, "ticks": false, "domain": true, "domainOpacity": 0, "grid": false, "titleFontSize": 21, "titleFontWeight": "normal", "titlePadding": 18, "titleY": 206}}, "text": {"value": "(b)"}}},
{"data": {"values": [{}]}, "mark": {"type": "rule", "strokeWidth": 2, "color": "black"},
 "encoding": {"x": {"datum": 1778, "type": "quantitative", "axis": {"orient": "bottom", "values": [1200,1300,1400,1500,1600,1700,1800], "tickSize": 10, "tickWidth": 2, "labelFontSize": 23, "labelPadding": 4, "format": "d", "labelFlush": false, "labelOverlap": false, "domain": false, "grid": false, "title": "Wavenumber / cm⁻¹", "titleFontSize": 23, "titleFontWeight": "normal", "titlePadding": 11}}, "y": {"datum": 0.704, "type": "quantitative", "axis": {"title": "Δ Absorbance", "labels": false, "ticks": false, "domain": true, "domainOpacity": 0, "grid": false, "titleFontSize": 21, "titleFontWeight": "normal", "titlePadding": 18, "titleY": 206}}, "y2": {"datum": 1.204}}},
{"data": {"values": [{}]}, "mark": {"type": "rule", "strokeWidth": 2, "color": "black"},
 "encoding": {"x": {"datum": 1786.5, "type": "quantitative", "axis": {"orient": "bottom", "values": [1200,1300,1400,1500,1600,1700,1800], "tickSize": 10, "tickWidth": 2, "labelFontSize": 23, "labelPadding": 4, "format": "d", "labelFlush": false, "labelOverlap": false, "domain": false, "grid": false, "title": "Wavenumber / cm⁻¹", "titleFontSize": 23, "titleFontWeight": "normal", "titlePadding": 11}}, "x2": {"datum": 1769.5}, "y": {"datum": 0.704, "type": "quantitative", "axis": {"title": "Δ Absorbance", "labels": false, "ticks": false, "domain": true, "domainOpacity": 0, "grid": false, "titleFontSize": 21, "titleFontWeight": "normal", "titlePadding": 18, "titleY": 206}}}},
{"data": {"values": [{}]}, "mark": {"type": "rule", "strokeWidth": 2, "color": "black"},
 "encoding": {"x": {"datum": 1786.5, "type": "quantitative", "axis": {"orient": "bottom", "values": [1200,1300,1400,1500,1600,1700,1800], "tickSize": 10, "tickWidth": 2, "labelFontSize": 23, "labelPadding": 4, "format": "d", "labelFlush": false, "labelOverlap": false, "domain": false, "grid": false, "title": "Wavenumber / cm⁻¹", "titleFontSize": 23, "titleFontWeight": "normal", "titlePadding": 11}}, "x2": {"datum": 1769.5}, "y": {"datum": 1.204, "type": "quantitative", "axis": {"title": "Δ Absorbance", "labels": false, "ticks": false, "domain": true, "domainOpacity": 0, "grid": false, "titleFontSize": 21, "titleFontWeight": "normal", "titlePadding": 18, "titleY": 206}}}},
{"data": {"values": [{}]}, "mark": {"type": "text", "fontSize": 19, "align": "left", "baseline": "middle"},
 "encoding": {"x": {"datum": 1772.5, "type": "quantitative", "axis": {"orient": "bottom", "values": [1200,1300,1400,1500,1600,1700,1800], "tickSize": 10, "tickWidth": 2, "labelFontSize": 23, "labelPadding": 4, "format": "d", "labelFlush": false, "labelOverlap": false, "domain": false, "grid": false, "title": "Wavenumber / cm⁻¹", "titleFontSize": 23, "titleFontWeight": "normal", "titlePadding": 11}}, "y": {"datum": 0.956, "type": "quantitative", "axis": {"title": "Δ Absorbance", "labels": false, "ticks": false, "domain": true, "domainOpacity": 0, "grid": false, "titleFontSize": 21, "titleFontWeight": "normal", "titlePadding": 18, "titleY": 206}}, "text": {"value": "0.0005"}}}
]}
]
}
]
}
